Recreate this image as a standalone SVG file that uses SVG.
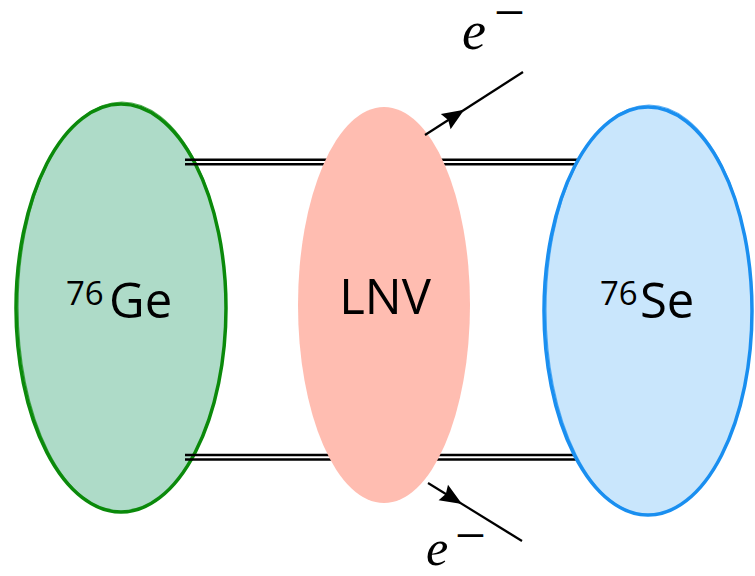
<svg xmlns="http://www.w3.org/2000/svg" width="755" height="576" viewBox="0 0 755 576">
<defs>
<style>
.lbl{font-family:"Open Sans","DejaVu Sans",sans-serif;fill:#000;}
.em{font-family:"Liberation Serif","DejaVu Serif",serif;font-style:italic;fill:#000;}
.mn{font-family:"Liberation Serif","DejaVu Serif",serif;fill:#000;stroke:#000;stroke-width:1.5;}
.dbl{stroke:#000;stroke-width:2.5;fill:none;}
.el{stroke:#000;stroke-width:2.2;fill:none;}
.ah{fill:#000;stroke:none;}
</style>
</defs>
<rect width="755" height="576" fill="#fff"/>
<g id="ge">
<ellipse cx="121" cy="308" rx="105" ry="204" fill="#AEDBC8" stroke="#0B8A0B" stroke-width="3.5"/>
<ellipse cx="122" cy="307" rx="104" ry="205" fill="none" stroke="#0B8A0B" stroke-width="1.2" opacity="0.7"/>
<text class="lbl"><tspan x="66" y="305" font-size="33">76</tspan><tspan x="109" y="318" font-size="49">Ge</tspan></text>
</g>
<g id="connectors">
<path class="dbl" d="M185,159.7 H590 M185,164.3 H590"/>
<path class="dbl" d="M185,455 H590 M185,459.6 H590"/>
</g>
<g id="lnv">
<ellipse cx="384" cy="305" rx="86" ry="198" fill="#FFBDB1"/>
<text class="lbl" x="385" y="314" font-size="49" text-anchor="middle">LNV</text>
</g>
<g id="se">
<ellipse cx="648" cy="311" rx="104" ry="204" fill="#C9E6FC" stroke="#1A8FF0" stroke-width="3.5"/>
<ellipse cx="649" cy="310" rx="103" ry="205" fill="none" stroke="#1A8FF0" stroke-width="1.2" opacity="0.7"/>
<text class="lbl"><tspan x="600" y="305" font-size="33">76</tspan><tspan x="640" y="318" font-size="49">Se</tspan></text>
</g>
<g id="electrons">
<path class="el" d="M425,135 L523,72"/>
<path class="ah" d="M464.2,109.8 L450.6,129.3 L448.2,120.1 L440.8,114.1 Z"/>
<path class="el" d="M428,483 L522,541"/>
<path class="ah" d="M462,504 L438.6,500.2 L445.8,494.0 L448.0,484.8 Z"/>
</g>
<g id="labels">
<text class="em" x="462" y="49" font-size="54">e</text>
<text class="mn" x="496" y="19.5" font-size="22" textLength="27" lengthAdjust="spacingAndGlyphs">−</text>
<text class="em" x="426" y="565" font-size="50">e</text>
<text class="mn" x="457" y="542.5" font-size="22" textLength="27" lengthAdjust="spacingAndGlyphs">−</text>
</g>
</svg>
